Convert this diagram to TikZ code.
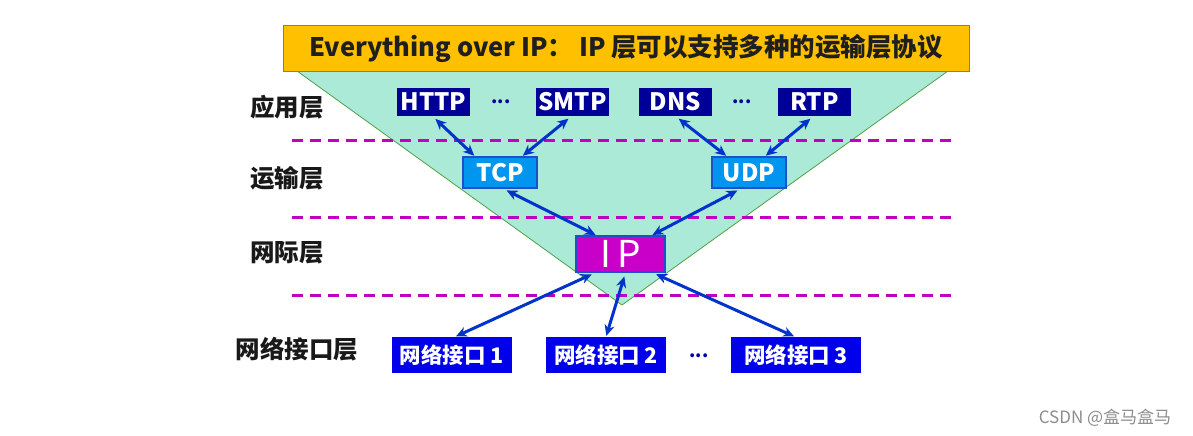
\documentclass[tikz,border=0pt]{standalone}
\usepackage{fontspec}
\setmainfont{Noto Sans CJK SC}
\usetikzlibrary{arrows.meta}
\definecolor{titlebg}{RGB}{255,192,0}
\definecolor{framegreen}{RGB}{80,160,70}
\definecolor{trifill}{RGB}{171,234,214}
\definecolor{appblue}{RGB}{0,0,153}
\definecolor{tpblue}{RGB}{0,150,240}
\definecolor{edgeblue}{RGB}{30,80,200}
\definecolor{ipmag}{RGB}{200,0,200}
\definecolor{ifblue}{RGB}{0,0,235}
\definecolor{arrblue}{RGB}{0,51,204}
\definecolor{dashmag}{RGB}{192,0,192}
\tikzset{
  layerlabel/.style={font=\fontsize{24.5}{24.5}\selectfont\bfseries, text=black!90, inner sep=0},
  appbox/.style={fill=appblue, text=white, font=\fontsize{24}{24}\selectfont\bfseries, minimum width=73pt, minimum height=28pt, inner sep=0},
  tpbox/.style={fill=tpblue, draw=edgeblue, line width=1.2pt, text=white, font=\fontsize{24}{24}\selectfont\bfseries, minimum width=74pt, minimum height=31pt, inner sep=0},
  ipbox/.style={fill=ipmag, draw=edgeblue, line width=1.2pt, text=white, font=\fontsize{37}{37}\selectfont, minimum width=89pt, minimum height=36pt, inner sep=0},
  ifbox/.style={fill=ifblue, text=white, font=\fontsize{21.5}{21.5}\selectfont\bfseries, minimum height=36pt, inner sep=0},
  dots/.style={text=appblue, font=\fontsize{18}{18}\selectfont\bfseries, inner sep=0},
  arr/.style={{Stealth[length=11pt,width=10pt]}-{Stealth[length=11pt,width=10pt]}, draw=arrblue, line width=3pt, shorten <=4pt, shorten >=1pt},
  layerline/.style={draw=dashmag, line width=3pt, dash pattern=on 11pt off 7pt}
}
\begin{document}
\begin{tikzpicture}[x=1pt,y=-1pt]
\path[use as bounding box] (0,0) rectangle (1193,436);
% triangle
\fill[trifill, draw=framegreen, line width=0.8pt] (297,71) -- (948,71) -- (622,305) -- cycle;
% title
\node[fill=titlebg, draw=framegreen, line width=1pt, minimum width=686pt, minimum height=45pt, inner sep=0,
  font=\fontsize{25.5}{25.5}\selectfont\bfseries, text=black!88] (title) at (626,48.5) {Everything over IP： IP 层可以支持多种的运输层协议};
% dashed layer lines
\draw[layerline] (292,140) -- (952,140);
\draw[layerline] (292,217) -- (952,217);
\draw[layerline] (292,295) -- (952,295);
% layer labels
\node[layerlabel] (lapp) at (287,107) {应用层};
\node[layerlabel] (ltrans) at (287,178) {运输层};
\node[layerlabel] (lnet) at (287,253) {网际层};
\node[layerlabel] (llink) at (297,349) {网络接口层};
% application layer
\node[appbox] (http) at (433.5,102) {HTTP};
\node[appbox] (smtp) at (572.5,102) {SMTP};
\node[appbox] (dns) at (675.5,102) {DNS};
\node[appbox] (rtp) at (814.5,102) {RTP};
\node[dots] (d1) at (501,102) {...};
\node[dots] (d2) at (742,102) {...};
% transport
\node[tpbox] (tcp) at (500,172.5) {TCP};
\node[tpbox] (udp) at (749,172.5) {UDP};
% internet
\node[ipbox] (ip) at (620.5,254) {I\,P};
% link
\node[ifbox, minimum width=120pt] (if1) at (452,355) {网络接口 1};
\node[ifbox, minimum width=120pt] (if2) at (606,355) {网络接口 2};
\node[ifbox, minimum width=130pt] (if3) at (796,355) {网络接口 3};
\node[dots] (d3) at (699,356) {...};
% arrows
\draw[arr] ([xshift=-1pt]http.south) -- ([xshift=-25pt]tcp.north);
\draw[arr] ([xshift=-1pt]smtp.south) -- ([xshift=22pt]tcp.north);
\draw[arr] ([xshift=0pt]dns.south) -- ([xshift=-22pt]udp.north);
\draw[arr] ([xshift=-1pt]rtp.south) -- ([xshift=16pt]udp.north);
\draw[arr] ([xshift=3pt]tcp.south) -- ([xshift=-24pt]ip.north);
\draw[arr] ([xshift=-8pt]udp.south) -- ([xshift=31pt]ip.north);
\draw[arr] ([xshift=-25pt]ip.south) -- ([xshift=3pt]if1.north);
\draw[arr] ([xshift=5pt]ip.south) -- ([xshift=0pt]if2.north);
\draw[arr] ([xshift=32pt]ip.south) -- ([xshift=-1pt]if3.north);
% watermark
\node[text=black!45, font=\fontsize{17}{17}\selectfont, inner sep=0] (wm) at (1105,418) {CSDN @盒马盒马};
\end{tikzpicture}
\end{document}
